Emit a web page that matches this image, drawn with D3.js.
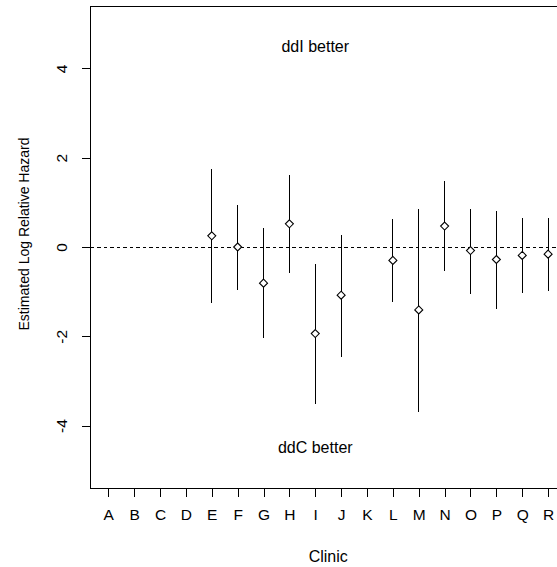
<!DOCTYPE html>
<html>
<head>
<meta charset="utf-8">
<script src="https://cdn.jsdelivr.net/npm/d3@7"></script>
<style>
  body { margin: 0; background: #fff; }
  svg { display: block; font-family: "Liberation Sans", Arial, sans-serif; }
  .axis text { font-size: 15.5px; fill: #000; }
  .axis line { stroke: #000; shape-rendering: crispEdges; }
  .axis path { display: none; }
</style>
</head>
<body>
<script>
// clinic labels and estimates (NaN = no estimate for that clinic)
var clinics = ['A','B','C','D','E','F','G','H','I','J','K','L','M','N','O','P','Q','R'];
var estimate = [NaN, NaN, NaN, NaN, 0.25, 0.00, -0.81, 0.52, -1.94, -1.08, NaN, -0.30, -1.41, 0.47, -0.08, -0.28, -0.19, -0.16];
var lower    = [NaN, NaN, NaN, NaN, -1.26, -0.96, -2.05, -0.58, -3.52, -2.46, NaN, -1.23, -3.69, -0.54, -1.06, -1.40, -1.04, -0.99];
var upper    = [NaN, NaN, NaN, NaN, 1.74, 0.95, 0.43, 1.61, -0.37, 0.28, NaN, 0.63, 0.85, 1.48, 0.85, 0.81, 0.64, 0.64];
var yTicks = [-4, -2, 0, 2, 4];

var w = 557, h = 567;

var svg = d3.select('body').append('svg')
            .attr('width', w)
            .attr('height', h);

// R style: xlim 1..18, ylim -5..5, each padded 4%
var xScale = d3.scaleLinear().domain([0.32, 18.68]).range([90.7, 565.7]);
var yScale = d3.scaleLinear().domain([-5.4, 5.4]).range([488, 6]);

var data = clinics.map(function(c, i) {
  return {clinic: c, pos: i + 1, est: estimate[i], lo: lower[i], hi: upper[i]};
}).filter(function(d) { return !isNaN(d.est); });

// reference line at zero
svg.append('line')
   .attr('x1', xScale.range()[0]).attr('x2', xScale.range()[1])
   .attr('y1', yScale(0)).attr('y2', yScale(0))
   .attr('stroke', '#000')
   .attr('stroke-dasharray', '3.5,3')
   .style('shape-rendering', 'crispEdges');

// interval lines
svg.selectAll('.ci')
   .data(data)
   .enter()
   .append('line')
   .attr('class', 'ci')
   .attr('x1', function(d) { return xScale(d.pos); })
   .attr('x2', function(d) { return xScale(d.pos); })
   .attr('y1', function(d) { return yScale(d.lo); })
   .attr('y2', function(d) { return yScale(d.hi); })
   .attr('stroke', '#000')
   .attr('stroke-width', 1)
   .style('shape-rendering', 'crispEdges');

// diamonds for the estimates
var r = 4;
svg.selectAll('.pt')
   .data(data)
   .enter()
   .append('path')
   .attr('class', 'pt')
   .attr('d', function(d) {
     var x = xScale(d.pos), y = yScale(d.est);
     return 'M' + x + ',' + (y - r) + 'L' + (x + r) + ',' + y + 'L' + x + ',' + (y + r) + 'L' + (x - r) + ',' + y + 'Z';
   })
   .attr('fill', '#fff')
   .attr('stroke', '#000')
   .attr('stroke-width', 1.1);

// axes
var xAxis = d3.axisBottom(xScale)
              .tickValues(d3.range(1, 19))
              .tickFormat(function(d) { return clinics[d - 1]; })
              .tickSize(9)
              .tickPadding(12);
svg.append('g')
   .attr('class', 'axis axis--x')
   .attr('transform', 'translate(0,' + yScale.range()[0] + ')')
   .call(xAxis);

var yAxis = d3.axisLeft(yScale)
              .tickValues(yTicks)
              .tickFormat(function(d) { return d; })
              .tickSize(9);
svg.append('g')
   .attr('class', 'axis axis--y')
   .attr('transform', 'translate(' + xScale.range()[0] + ',0)')
   .call(yAxis)
   .selectAll('text')
   .attr('x', 0).attr('dy', 0)
   .attr('text-anchor', 'middle')
   .attr('transform', 'translate(-29,0)rotate(-90)translate(0,5)');

// plot box
svg.append('rect')
   .attr('x', xScale.range()[0])
   .attr('y', yScale.range()[1])
   .attr('width', xScale.range()[1] - xScale.range()[0])
   .attr('height', yScale.range()[0] - yScale.range()[1])
   .attr('fill', 'none')
   .attr('stroke', '#000')
   .style('shape-rendering', 'crispEdges');

// annotations
svg.append('text')
   .attr('x', xScale(9)).attr('y', yScale(4.5) + 5.5)
   .attr('text-anchor', 'middle')
   .style('font-size', '16px')
   .text('ddI better');
svg.append('text')
   .attr('x', xScale(9)).attr('y', yScale(-4.5) + 5.5)
   .attr('text-anchor', 'middle')
   .style('font-size', '16px')
   .text('ddC better');

// axis titles
svg.append('text')
   .attr('text-anchor', 'middle')
   .attr('transform', 'translate(29,' + (yScale(0) - 13) + ')rotate(-90)')
   .style('font-size', '14px')
   .text('Estimated Log Relative Hazard');
svg.append('text')
   .attr('text-anchor', 'middle')
   .attr('x', (xScale.range()[0] + xScale.range()[1]) / 2)
   .attr('y', 562)
   .style('font-size', '16px')
   .text('Clinic');
</script>
</body>
</html>
